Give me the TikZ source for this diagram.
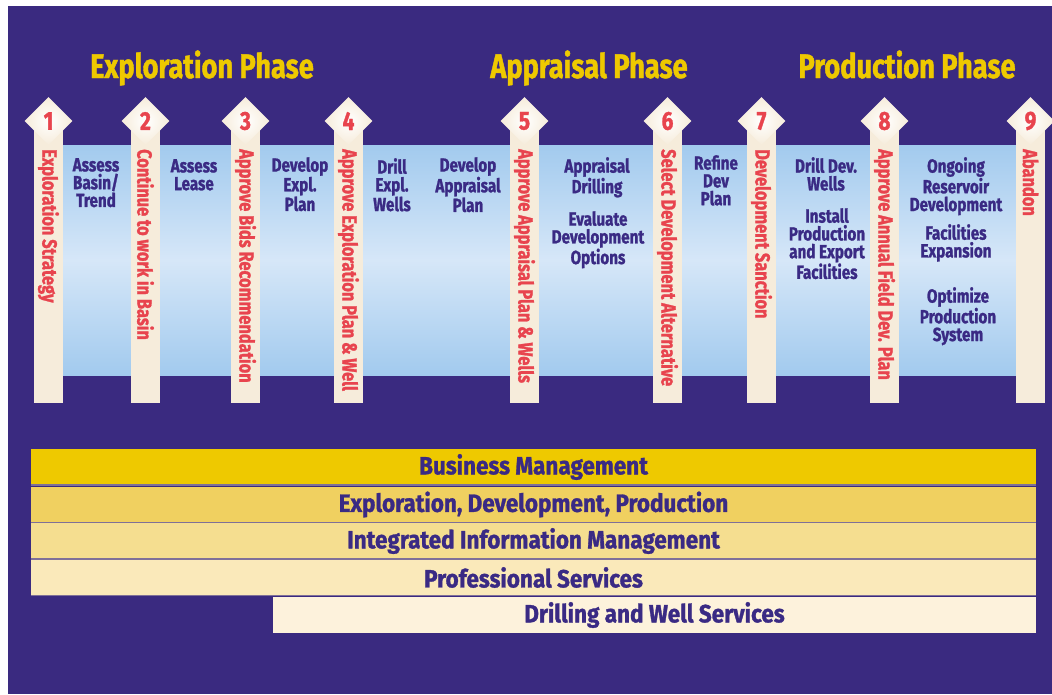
\documentclass[tikz,border=0pt]{standalone}
\usepackage{fontspec}
\newfontfamily\condfont[FakeStretch=0.8, BoldFeatures={FakeBold=1.2}]{Fira Sans}
\newfontfamily\barfont[FakeStretch=0.9, BoldFeatures={FakeBold=1.2}]{Fira Sans}
\usetikzlibrary{shapes.geometric}
\definecolor{bgpurple}{HTML}{3A2A80}
\definecolor{inkpurple}{HTML}{3A2A84}
\definecolor{phaseyellow}{HTML}{EEC900}
\definecolor{gatered}{HTML}{E8444E}
\definecolor{cream}{HTML}{F6ECDB}
\definecolor{bandblue}{HTML}{A2CAEE}
\definecolor{bandlight}{HTML}{D6E7F8}
\definecolor{sepline}{HTML}{7F7098}
\definecolor{edpfill}{HTML}{F0D060}
\definecolor{iimfill}{HTML}{F5DE90}
\definecolor{psfill}{HTML}{FAE9BA}
\definecolor{dwsfill}{HTML}{FDF2DC}
\newcommand{\shafttop}{130}
\newcommand{\shaftbot}{403}
\newcommand{\labeltop}{149}

\begin{document}
\begin{tikzpicture}[x=1pt,y=-1pt,
  gem/.style={diamond, minimum width=48pt, minimum height=48pt, inner sep=0pt,
    inner color=white, outer color=cream, text=gatered,
    font=\condfont\bfseries\fontsize{26}{26}\selectfont},
  gate/.style={rotate=-90, anchor=west, inner sep=0pt, text=gatered,
    font=\condfont\bfseries\fontsize{20.5}{20.5}\selectfont},
  task/.style={anchor=north, align=center, inner sep=0pt, text=inkpurple,
    font=\condfont\bfseries\fontsize{19}{17.8}\selectfont},
  phase/.style={anchor=base, inner sep=0pt, text=phaseyellow,
    font=\condfont\bfseries\fontsize{34}{34}\selectfont},
  bar/.style={minimum height=36pt, inner sep=0pt, text=inkpurple,
    font=\barfont\bfseries\fontsize{25}{25}\selectfont}]
\useasboundingbox (0,0) rectangle (1052,694);
\fill[white] (0,0) rectangle (1052,694);
\fill[bgpurple] (8,6) rectangle (1052,694);
\shade[top color=bandblue, bottom color=bandblue, middle color=bandlight] (48,145) rectangle (1030,375);
%phases
\node[phase] (expl) at (202, 78) {Exploration Phase};
\node[phase] (appr) at (589, 78) {Appraisal Phase};
\node[phase] (prod) at (907, 78) {Production Phase};
%shafts
\fill[cream] (34.0, \shafttop) rectangle (63.0, \shaftbot);
\fill[cream] (131.0, \shafttop) rectangle (160.0, \shaftbot);
\fill[cream] (231.0, \shafttop) rectangle (260.0, \shaftbot);
\fill[cream] (334.0, \shafttop) rectangle (363.0, \shaftbot);
\fill[cream] (510.0, \shafttop) rectangle (539.0, \shaftbot);
\fill[cream] (653.0, \shafttop) rectangle (682.0, \shaftbot);
\fill[cream] (747.0, \shafttop) rectangle (776.0, \shaftbot);
\fill[cream] (870.0, \shafttop) rectangle (899.0, \shaftbot);
\fill[cream] (1016.0, \shafttop) rectangle (1045.0, \shaftbot);
%heads
\node[gem] (g1) at (48.5, 121) {1};
\node[gem] (g2) at (145.5, 121) {2};
\node[gem] (g3) at (245.5, 121) {3};
\node[gem] (g4) at (348.5, 121) {4};
\node[gem] (g5) at (524.5, 121) {5};
\node[gem] (g6) at (667.5, 121) {6};
\node[gem] (g7) at (761.5, 121) {7};
\node[gem] (g8) at (884.5, 121) {8};
\node[gem] (g9) at (1030.5, 121) {9};
%gates
\node[gate] (d1) at (48.5, \labeltop) {Exploration Strategy};
\node[gate] (d2) at (145.5, \labeltop) {Continue to work in Basin};
\node[gate] (d3) at (245.5, \labeltop) {Approve Bids Recommendation};
\node[gate] (d4) at (348.5, \labeltop) {Approve Exploration Plan \& Well};
\node[gate] (d5) at (524.5, \labeltop) {Approve Appraisal Plan \& Wells};
\node[gate] (d6) at (667.5, \labeltop) {Select Development Alternative};
\node[gate] (d7) at (761.5, \labeltop) {Development Sanction};
\node[gate] (d8) at (884.5, \labeltop) {Approve Annual Field Dev. Plan};
\node[gate] (d9) at (1030.5, \labeltop) {Abandon};
%tasks
\node[task] (t1) at (96, 158) {Assess\\Basin/\\Trend};
\node[task] (t2) at (194, 159) {Assess\\Lease};
\node[task] (t3) at (300, 157) {Develop\\Expl.\\Plan};
\node[task] (t4) at (392, 158) {Drill\\Expl.\\Wells};
\node[task] (t5) at (468, 157) {Develop\\Appraisal\\Plan};
\node[task] (t6) at (597, 157) {Appraisal\\Drilling};
\node[task] (t7) at (598, 211) {Evaluate\\Development\\Options};
\node[task] (t8) at (716, 155) {Refine\\Dev\\Plan};
\node[task] (t9) at (826, 157) {Drill Dev.\\Wells};
\node[task] (t10) at (827, 208) {Install\\Production\\and Export\\Facilities};
\node[task] (t11) at (956, 157) {Ongoing\\Reservoir\\Development};
\node[task] (t12) at (956, 224) {Facilities\\Expansion};
\node[task] (t13) at (958, 287) {Optimize\\Production\\System};
%bars
\node[bar, fill=phaseyellow, minimum width=1005pt] (b1) at (533.5, 467) {Business Management};
\node[bar, fill=edpfill, minimum width=1005pt] (b2) at (533.5, 504.5) {Exploration, Development, Production};
\node[bar, fill=iimfill, minimum width=1005pt] (b3) at (533.5, 541) {Integrated Information Management};
\node[bar, fill=psfill, minimum width=1005pt] (b4) at (533.5, 577.5) {Professional Services};
\node[bar, fill=dwsfill, minimum width=763pt] (b5) at (654.5, 615) {Drilling and Well Services};
\draw[sepline, line width=1.5pt] (b1.south west) -- (b1.south east);
\draw[sepline, line width=1.5pt] (b2.south west) -- (b2.south east);
\draw[sepline, line width=1.5pt] (b3.south west) -- (b3.south east);
\draw[sepline, line width=1.5pt] (b4.south west) -- (b4.south east);
\end{tikzpicture}
\end{document}
